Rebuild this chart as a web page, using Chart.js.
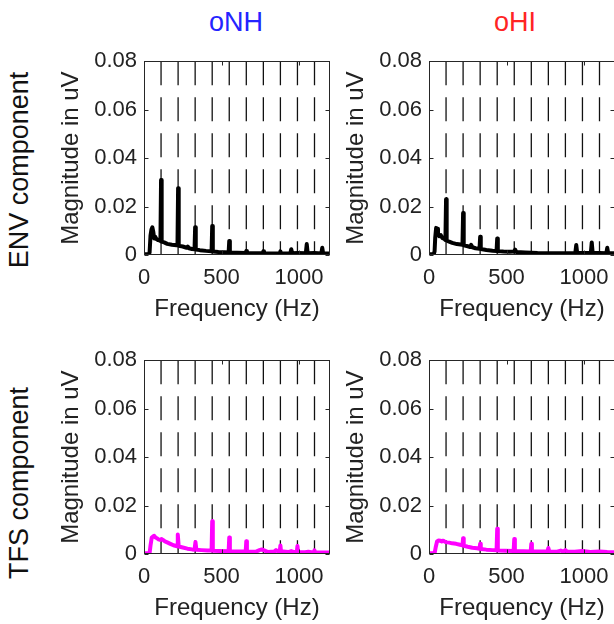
<!DOCTYPE html>
<html>
<head>
<meta charset="utf-8">
<script src="https://cdn.jsdelivr.net/npm/chart.js@4.4.0/dist/chart.umd.min.js"></script>
<style>
  html, body { margin: 0; padding: 0; background: #fff; overflow: hidden; width: 614px; height: 624px; }
  canvas { position: absolute; }
  .txt { position: absolute; font-family: 'Liberation Sans', Arial, Helvetica, sans-serif; line-height: 1; white-space: nowrap; transform: translate(-50%, -50%); }
  .rot { transform: translate(-50%, -50%) rotate(-90deg); }
</style>
</head>
<body>
<div class="txt" style="left:236px; top:22px; font-size:27px; color:#2424ff;">oNH</div>
<div class="txt" style="left:515px; top:22px; font-size:27px; color:#ff2424;">oHI</div>
<div class="txt rot" style="left:19px; top:170px; font-size:27px; color:#111;">ENV component</div>
<div class="txt rot" style="left:19px; top:483px; font-size:27px; color:#111;">TFS component</div>

<canvas id="envNH" width="296" height="284" style="left:49px; top:41px;"></canvas>
<canvas id="envHI" width="296" height="284" style="left:334px; top:41px;"></canvas>
<canvas id="tfsNH" width="296" height="284" style="left:49px; top:340px;"></canvas>
<canvas id="tfsHI" width="296" height="284" style="left:334px; top:340px;"></canvas>

<script>
// axis ticks
const freqTicks = [0, 500, 1000];
const magTicks = [0, 0.02, 0.04, 0.06, 0.08];

// harmonic markers (Hz)
const harmonicsHz = [110, 220, 330, 440, 550, 660, 770, 880, 990, 1100];

// spectra: [frequency Hz, magnitude uV]
const envNH = [
  [0, 0.0003], [30, 0.0003], [36, 0.001], [42, 0.008], [48, 0.0105], [54, 0.0114], [60, 0.0095],
  [66, 0.0068], [72, 0.0075], [80, 0.0066], [90, 0.0062], [100, 0.006], [106, 0.0058],
  [110, 0.031], [114, 0.0055], [130, 0.0052], [150, 0.0046], [180, 0.0042], [210, 0.004],
  [216, 0.004], [220, 0.0276], [224, 0.0038], [250, 0.0035], [275, 0.003], [282, 0.0035],
  [290, 0.0028], [310, 0.0025], [326, 0.0024], [330, 0.0115], [334, 0.0023], [360, 0.002],
  [400, 0.0017], [436, 0.0015], [440, 0.012], [444, 0.0014], [480, 0.0012], [520, 0.0011],
  [546, 0.001], [550, 0.0058], [554, 0.001], [600, 0.0009], [656, 0.0008], [660, 0.0016],
  [664, 0.0008], [720, 0.0007], [766, 0.0007], [770, 0.0015], [774, 0.0007], [830, 0.0006],
  [876, 0.0006], [880, 0.0015], [884, 0.0006], [944, 0.0007], [950, 0.0024], [956, 0.0007],
  [990, 0.0008], [1044, 0.0007], [1050, 0.0045], [1056, 0.0007], [1100, 0.0008],
  [1144, 0.0006], [1150, 0.003], [1156, 0.0006], [1200, 0.0006]
];

const envHI = [
  [0, 0.0003], [30, 0.0003], [36, 0.0015], [40, 0.007], [46, 0.0112], [52, 0.0108], [58, 0.009],
  [66, 0.0078], [76, 0.0082], [86, 0.007], [96, 0.0068], [106, 0.0062], [110, 0.023],
  [114, 0.006], [130, 0.0055], [150, 0.005], [180, 0.0045], [216, 0.0042], [220, 0.0173],
  [224, 0.004], [250, 0.0036], [266, 0.0033], [272, 0.0042], [280, 0.0032], [300, 0.0028],
  [326, 0.0026], [330, 0.0075], [334, 0.0025], [370, 0.0021], [410, 0.0018], [436, 0.0017],
  [440, 0.0068], [444, 0.0016], [480, 0.0014], [520, 0.0013], [548, 0.0014], [556, 0.0022],
  [564, 0.0012], [620, 0.001], [700, 0.0008], [800, 0.0007], [900, 0.0007], [944, 0.0008],
  [950, 0.0041], [956, 0.0008], [1000, 0.0008], [1044, 0.0008], [1050, 0.0052],
  [1056, 0.0008], [1100, 0.0008], [1144, 0.0007], [1150, 0.003], [1156, 0.0007], [1200, 0.0007]
];

const tfsNH = [
  [0, 0.0003], [36, 0.0003], [42, 0.0035], [50, 0.0068], [58, 0.0072], [66, 0.0075],
  [74, 0.0068], [84, 0.0065], [94, 0.006], [104, 0.0058], [112, 0.0062], [122, 0.0058],
  [135, 0.0052], [150, 0.0048], [170, 0.0042], [190, 0.0036], [214, 0.0032], [218, 0.008],
  [224, 0.0031], [250, 0.0027], [280, 0.0022], [310, 0.0019], [326, 0.0018], [332, 0.005],
  [338, 0.0018], [370, 0.0016], [410, 0.0014], [436, 0.0014], [440, 0.0135], [444, 0.0013],
  [490, 0.0012], [546, 0.0011], [550, 0.0068], [554, 0.001], [610, 0.001], [656, 0.001],
  [660, 0.0053], [664, 0.0009], [720, 0.0009], [745, 0.0016], [760, 0.0019], [775, 0.0015],
  [800, 0.0008], [840, 0.001], [852, 0.0016], [866, 0.001], [876, 0.0012], [880, 0.0035],
  [884, 0.0011], [930, 0.0008], [950, 0.0012], [970, 0.0008], [986, 0.0009], [990, 0.0033],
  [994, 0.0008], [1040, 0.0007], [1060, 0.0009], [1080, 0.0007], [1096, 0.0007],
  [1100, 0.0015], [1104, 0.0007], [1150, 0.0006], [1200, 0.0006]
];

const tfsHI = [
  [0, 0.0003], [36, 0.0003], [44, 0.003], [52, 0.0052], [62, 0.0056], [72, 0.0055],
  [82, 0.0052], [92, 0.0055], [104, 0.005], [116, 0.0048], [130, 0.0047], [150, 0.0044],
  [175, 0.0042], [200, 0.0038], [216, 0.0036], [220, 0.0065], [224, 0.0034], [250, 0.003],
  [280, 0.0026], [310, 0.0024], [326, 0.0022], [330, 0.0042], [334, 0.0021], [370, 0.0018],
  [410, 0.0016], [436, 0.0015], [440, 0.0104], [444, 0.0014], [490, 0.0013], [546, 0.0012],
  [550, 0.0062], [554, 0.0011], [610, 0.0011], [656, 0.001], [660, 0.0042], [664, 0.001],
  [720, 0.001], [764, 0.001], [770, 0.0025], [776, 0.001], [820, 0.0009], [850, 0.0014],
  [866, 0.001], [880, 0.0016], [890, 0.001], [940, 0.0009], [990, 0.0012], [1040, 0.0008],
  [1100, 0.001], [1150, 0.0008], [1200, 0.0007]
];

const FONT = "'Liberation Sans', Arial, Helvetica, sans-serif";
const INK = '#222';

// box around the plot area with short inward ticks
const framePlugin = {
  id: 'frame',
  afterDatasetsDraw(chart) {
    const { ctx, chartArea: a, scales: { x, y } } = chart;
    const l = Math.round(a.left) + 0.5, r = Math.round(a.right) - 0.5;
    const t = Math.round(a.top) + 0.5, b = Math.round(a.bottom) - 0.5;
    ctx.save();
    ctx.strokeStyle = '#262626';
    ctx.lineWidth = 1;
    ctx.strokeRect(l, t, r - l, b - t);
    ctx.beginPath();
    magTicks.forEach(v => {
      const py = Math.round(y.getPixelForValue(v)) + 0.5;
      ctx.moveTo(l, py); ctx.lineTo(l + 4, py);
      ctx.moveTo(r, py); ctx.lineTo(r - 4, py);
    });
    freqTicks.forEach(v => {
      const px = Math.round(x.getPixelForValue(v)) + 0.5;
      ctx.moveTo(px, b); ctx.lineTo(px, b - 4);
      ctx.moveTo(px, t); ctx.lineTo(px, t + 4);
    });
    ctx.stroke();
    ctx.restore();
  }
};

function makePanel(id, spectrum, color) {
  const markers = harmonicsHz.map(h => ({
    data: [{ x: h, y: 0.08 }, { x: h, y: 0 }],
    borderColor: '#111',
    borderWidth: 1.3,
    borderDash: [24, 12],
    pointRadius: 0,
    order: 2
  }));
  return new Chart(document.getElementById(id), {
    type: 'line',
    data: {
      datasets: [{
        data: spectrum.map(([x, y]) => ({ x, y })),
        borderColor: color,
        borderWidth: 4,
        pointRadius: 0,
        tension: 0,
        borderJoinStyle: 'round',
        order: 1
      }, ...markers]
    },
    options: {
      responsive: false,
      animation: false,
      events: [],
      layout: { padding: { top: 12, right: 15, left: 0, bottom: 0 } },
      plugins: { legend: { display: false }, tooltip: { enabled: false } },
      scales: {
        x: {
          type: 'linear', min: 0, max: 1200,
          afterBuildTicks: s => { s.ticks = freqTicks.map(v => ({ value: v })); },
          afterFit: s => { s.height = 70; },
          grid: { display: false, drawTicks: false },
          border: { display: false },
          ticks: { padding: 10, color: INK, font: { family: FONT, size: 22 }, maxRotation: 0, autoSkip: false,
                   callback: v => String(v) },
          title: { display: true, text: 'Frequency (Hz)', color: INK, font: { family: FONT, size: 24 }, padding: { top: 0, bottom: 1 } }
        },
        y: {
          type: 'linear', min: 0, max: 0.08,
          afterBuildTicks: s => { s.ticks = magTicks.map(v => ({ value: v })); },
          afterFit: s => { s.width = 95; },
          grid: { display: false, drawTicks: false },
          border: { display: false },
          ticks: { padding: 7, color: INK, font: { family: FONT, size: 22 }, autoSkip: false,
                   callback: v => v === 0 ? '0' : v.toFixed(2) },
          title: { display: true, text: 'Magnitude in uV', color: INK, font: { family: FONT, size: 24 }, padding: { top: 8, bottom: 0 } }
        }
      }
    },
    plugins: [framePlugin]
  });
}

makePanel('envNH', envNH, '#000');
makePanel('envHI', envHI, '#000');
makePanel('tfsNH', tfsNH, '#ff00ff');
makePanel('tfsHI', tfsHI, '#ff00ff');
</script>
</body>
</html>
